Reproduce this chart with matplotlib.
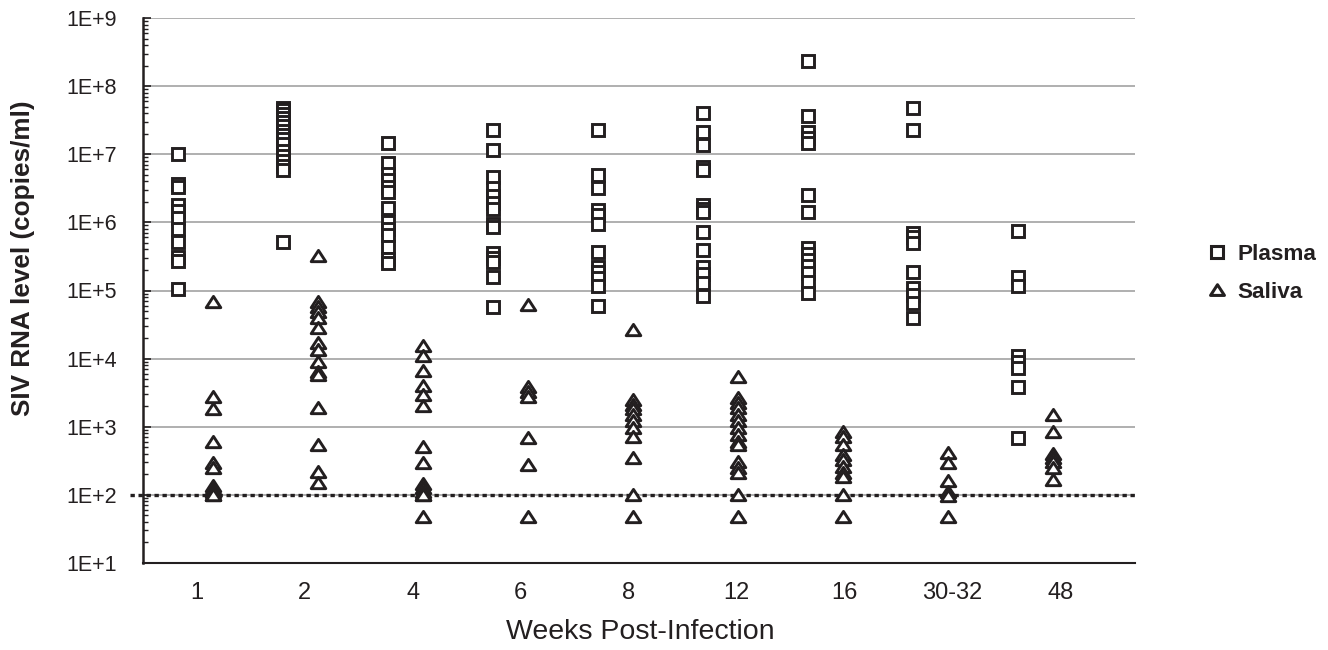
import numpy as np
import matplotlib
matplotlib.use("Agg")
import matplotlib.pyplot as plt
from matplotlib.lines import Line2D
from matplotlib.path import Path
from matplotlib.ticker import FixedLocator, FuncFormatter, LogLocator, NullFormatter

plt.rcParams['font.family'] = ['Liberation Sans', 'DejaVu Sans']

# ---------------- data ----------------
week_labels = ['1', '2', '4', '6', '8', '12', '16', '30-32', '48']

plasma_w1 = [1.0e7, 3.7e6, 3.3e6, 1.8e6, 1.45e6, 1.15e6, 8e5, 5.2e5, 3.1e5, 2.7e5, 1.05e5]
plasma_w2 = [4.8e7, 4.4e7, 3.9e7, 3.4e7, 3.0e7, 2.6e7, 2.2e7, 1.9e7, 1.7e7, 1.4e7,
             1.1e7, 9.5e6, 8e6, 6.8e6, 5.8e6, 5.2e5]
plasma_w4 = [1.45e7, 7.5e6, 5.2e6, 4.2e6, 3.3e6, 2.8e6, 1.6e6, 1.0e6, 8e5, 6.5e5, 4.3e5, 2.9e5, 2.5e5]
plasma_w6 = [2.3e7, 1.15e7, 4.7e6, 3.2e6, 2.4e6, 1.9e6, 1.55e6, 9.5e5, 8.5e5, 3.6e5, 3.0e5,
             2.6e5, 1.6e5, 5.7e4]
plasma_w8 = [2.3e7, 5e6, 3.2e6, 1.5e6, 1.3e6, 9.5e5, 3.7e5, 2.2e5, 1.9e5, 1.55e5, 1.15e5, 5.9e4]
plasma_w12 = [4e7, 2.1e7, 1.35e7, 6.6e6, 5.8e6, 1.8e6, 1.55e6, 1.4e6, 7.2e5, 3.9e5, 2.2e5,
              1.75e5, 1.3e5, 8.3e4]
plasma_w16 = [2.3e8, 3.6e7, 2.1e7, 1.75e7, 1.45e7, 2.5e6, 1.4e6, 4.2e5, 3.4e5, 2.8e5, 2.3e5,
              1.8e5, 1.35e5, 9.2e4]
plasma_w30 = [4.8e7, 2.3e7, 7e5, 6e5, 5e5, 1.9e5, 1.1e5, 8.5e4, 6.6e4, 4e4]
plasma_w48 = [7.4e5, 1.6e5, 1.15e5, 1.1e4, 9e3, 7.3e3, 3.8e3, 680]

saliva_w1 = [6.8e4, 2.7e3, 1.8e3, 600, 290, 250, 135, 120, 110, 100, 100]
saliva_w2 = [3.2e5, 6.8e4, 5.8e4, 4.8e4, 3.9e4, 2.8e4, 1.7e4, 1.35e4, 9e3, 6.4e3, 5.7e3,
             1.9e3, 540, 215, 150]
saliva_w4 = [1.55e4, 1.1e4, 6.5e3, 3.9e3, 2.9e3, 2e3, 500, 295, 145, 125, 110, 100, 100, 47]
saliva_w6 = [6.2e4, 3.8e3, 3.2e3, 2.7e3, 680, 275, 47]
saliva_w8 = [2.6e4, 2.5e3, 2.1e3, 1.8e3, 1.5e3, 1.2e3, 950, 700, 350, 100, 47]
saliva_w12 = [5.4e3, 2.6e3, 2.2e3, 1.9e3, 1.5e3, 1.2e3, 950, 760, 600, 540, 300, 250, 210, 100, 47]
saliva_w16 = [830, 700, 540, 390, 325, 260, 210, 185, 100, 47]
saliva_w30 = [410, 290, 160, 110, 95, 47]
saliva_w48 = [1.5e3, 850, 400, 350, 300, 250, 165]

plasma = [plasma_w1, plasma_w2, plasma_w4, plasma_w6, plasma_w8,
          plasma_w12, plasma_w16, plasma_w30, plasma_w48]
saliva = [saliva_w1, saliva_w2, saliva_w4, saliva_w6, saliva_w8,
          saliva_w12, saliva_w16, saliva_w30, saliva_w48]

detection_limit = 100

# ---------------- style ----------------
INK = '#231f20'
GRID = '#9a9a9a'
tri_marker = Path([(0, 1.0), (-1.2, -0.85), (1.2, -0.85), (0, 1.0)], closed=True)

fig = plt.figure(figsize=(13.28, 6.5), dpi=100)
W, H = 1328, 650
ax = fig.add_axes([143 / W, 1 - 563 / H, (1135 - 143) / W, (563 - 18) / H])

ax.set_yscale('log')
ax.set_ylim(10, 1e9)
ax.set_xlim(-0.333, 9.114)

for i, (p, s) in enumerate(zip(plasma, saliva)):
    ax.plot([i] * len(p), p, ls='none', marker='s', ms=8.8, mew=2.1,
            mfc='white', mec=INK, zorder=3, clip_on=False)
    ax.plot([i + 1 / 3] * len(s), s, ls='none', marker=tri_marker, ms=10.5, mew=2.1,
            mfc='white', mec=INK, zorder=3, clip_on=False)

# detection limit dotted line
ax.axhline(detection_limit, xmin=-0.013, xmax=1.0, color=INK, lw=2.4,
           linestyle=(0, (1.3, 1.1)), zorder=2, clip_on=False)

# axes styling
for side in ['top', 'right']:
    ax.spines[side].set_visible(False)
ax.spines['left'].set_linewidth(1.8)
ax.spines['left'].set_color(INK)
ax.spines['bottom'].set_linewidth(1.5)
ax.spines['bottom'].set_color(INK)

ax.yaxis.set_major_locator(LogLocator(base=10, numticks=20))
ax.yaxis.set_minor_locator(LogLocator(base=10, subs=np.arange(2, 10), numticks=20))
ax.yaxis.set_minor_formatter(NullFormatter())
ax.yaxis.set_major_formatter(FuncFormatter(lambda v, _: f"1E+{int(round(np.log10(v)))}"))
ax.tick_params(axis='y', which='major', direction='in', length=6, width=1.2,
               color=INK, labelsize=15.5, labelcolor=INK, pad=19)
ax.tick_params(axis='y', which='minor', direction='in', length=3.5, width=1.0, color=INK)
ax.yaxis.grid(True, which='major', color=GRID, lw=1.1)
ax.set_axisbelow(True)

tick_pos = [0.18 + 1.028 * i for i in range(len(week_labels))]
ax.xaxis.set_major_locator(FixedLocator(tick_pos))
ax.set_xticklabels(week_labels)
ax.tick_params(axis='x', length=0, labelsize=17, labelcolor=INK, pad=14)

fig.text(23 / W, 1 - 258 / H, 'SIV RNA level (copies/ml)', rotation=90,
         ha='center', va='center', fontsize=18.8, fontweight='bold', color=INK)
fig.text(640 / W, 1 - 632 / H, 'Weeks Post-Infection', ha='center', va='center',
         fontsize=20.5, color=INK)

handles = [
    Line2D([], [], ls='none', marker='s', ms=8.6, mew=2.2, mfc='white', mec=INK, label='Plasma'),
    Line2D([], [], ls='none', marker=tri_marker, ms=10, mew=2.2, mfc='white', mec=INK, label='Saliva'),
]
leg = fig.legend(handles=handles, loc='center left',
                 bbox_to_anchor=(1206 / W, 1 - 273.5 / H), frameon=False,
                 handlelength=1.0, handletextpad=0.4, labelspacing=0.75,
                 borderpad=0, borderaxespad=0,
                 prop={'size': 16.2, 'weight': 'bold'})
for t in leg.get_texts():
    t.set_color(INK)

fig.savefig('out.png', dpi=100)
